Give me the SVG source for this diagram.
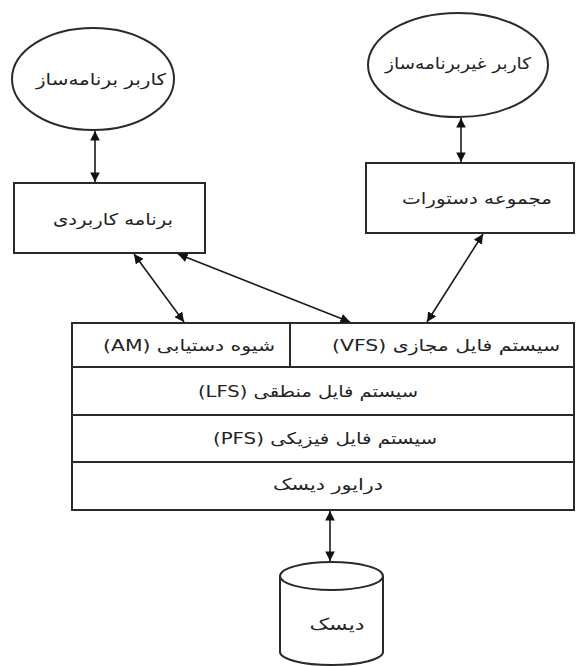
<svg xmlns="http://www.w3.org/2000/svg" width="576" height="666" viewBox="0 0 576 666">
<style>
.s{fill:#fff;stroke:#2a2a2a;stroke-width:2}
.l{fill:none;stroke:#2a2a2a;stroke-width:2}
.c{fill:none;stroke:#1a1a1a;stroke-width:1.6}
text{font-family:"DejaVu Sans",sans-serif;font-size:16px;fill:#222;text-anchor:middle;direction:rtl}
</style>
<defs>
<marker id="a" viewBox="0 0 10 10" refX="10" refY="5" markerWidth="6" markerHeight="6" orient="auto-start-reverse" markerUnits="strokeWidth">
<path d="M0,0 L10,5 L0,10 z" fill="#111"/>
</marker>
</defs>
<rect width="576" height="666" fill="#fff"/>
<g id="user-programmer">
<ellipse class="s" cx="93" cy="79" rx="81" ry="51"/>
<text x="101" y="85" textLength="130" lengthAdjust="spacingAndGlyphs">کاربر برنامه‌ساز</text>
</g>
<g id="user-nonprogrammer">
<ellipse class="s" cx="458" cy="65" rx="90" ry="52"/>
<text x="458" y="69" textLength="146" lengthAdjust="spacingAndGlyphs">کاربر غیربرنامه‌ساز</text>
</g>
<g id="app">
<rect class="s" x="14" y="183" width="191" height="70"/>
<text x="113" y="225" textLength="120" lengthAdjust="spacingAndGlyphs">برنامه کاربردی</text>
</g>
<g id="commands">
<rect class="s" x="366" y="163" width="208" height="70"/>
<text x="477" y="204" textLength="150" lengthAdjust="spacingAndGlyphs">مجموعه دستورات</text>
</g>
<g id="filesystem">
<rect class="s" x="72" y="323" width="502" height="187"/>
<line class="l" x1="72" y1="367" x2="574" y2="367"/>
<line class="l" x1="72" y1="415" x2="574" y2="415"/>
<line class="l" x1="72" y1="462" x2="574" y2="462"/>
<line class="l" x1="290" y1="323" x2="290" y2="367"/>
</g>
<g id="am"><text x="189" y="351" textLength="172" lengthAdjust="spacingAndGlyphs">شیوه دستیابی (AM)</text></g>
<g id="vfs"><text x="446" y="351" textLength="228" lengthAdjust="spacingAndGlyphs">سیستم فایل مجازی (VFS)</text></g>
<g id="lfs"><text x="308" y="397" textLength="220" lengthAdjust="spacingAndGlyphs">سیستم فایل منطقی (LFS)</text></g>
<g id="pfs"><text x="325" y="444" textLength="224" lengthAdjust="spacingAndGlyphs">سیستم فایل فیزیکی (PFS)</text></g>
<g id="driver"><text x="328" y="490" textLength="110" lengthAdjust="spacingAndGlyphs">درایور دیسک</text></g>
<g id="disk">
<path class="s" d="M280,576 L280,652 A51.5,13 0 0 0 383,652 L383,576"/>
<ellipse class="s" cx="331.5" cy="576" rx="51.5" ry="14"/>
<text x="337" y="630" textLength="55" lengthAdjust="spacingAndGlyphs">دیسک</text>
</g>
<g id="connectors">
<line class="c" x1="95" y1="131" x2="95" y2="182" marker-start="url(#a)" marker-end="url(#a)"/>
<line class="c" x1="461" y1="118" x2="461" y2="162" marker-start="url(#a)" marker-end="url(#a)"/>
<line class="c" x1="134" y1="254" x2="184" y2="322" marker-start="url(#a)" marker-end="url(#a)"/>
<line class="c" x1="178" y1="254" x2="350" y2="322" marker-start="url(#a)" marker-end="url(#a)"/>
<line class="c" x1="483" y1="234" x2="427" y2="322" marker-start="url(#a)" marker-end="url(#a)"/>
<line class="c" x1="330" y1="511" x2="330" y2="561" marker-start="url(#a)" marker-end="url(#a)"/>
</g>
</svg>
